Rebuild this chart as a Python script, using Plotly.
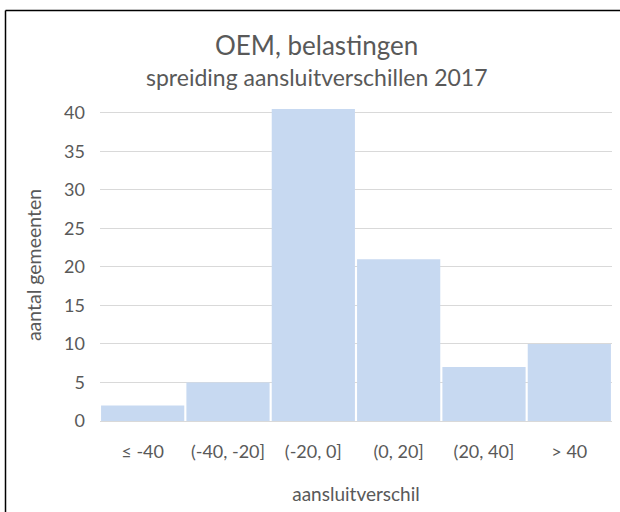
import plotly.graph_objects as go

# Histogram bins and counts
bins = ["≤ -40", "(-40, -20]", "(-20, 0]", "(0, 20]", "(20, 40]", "> 40"]
counts = [2, 5, 41, 21, 7, 10]
y_ticks = [0, 5, 10, 15, 20, 25, 30, 35, 40]

grey = "#595959"
font_family = "Lato, 'Open Sans', sans-serif"

fig = go.Figure(
    go.Bar(
        x=bins,
        y=counts,
        marker=dict(color="#c7d9f1", line=dict(width=0)),
        hoverinfo="x+y",
    )
)

fig.update_layout(
    width=620,
    height=512,
    margin=dict(l=100, r=8, t=109, b=91),
    paper_bgcolor="white",
    plot_bgcolor="white",
    bargap=0.025,
    showlegend=False,
    font=dict(family=font_family, color=grey, size=18),
    annotations=[
        dict(
            text="OEM, belastingen",
            xref="paper", yref="paper",
            x=(316 - 100) / 512, y=(421 - 45) / 312,
            showarrow=False, xanchor="center", yanchor="middle",
            font=dict(size=26, color=grey, family=font_family),
        ),
        dict(
            text="spreiding aansluitverschillen 2017",
            xref="paper", yref="paper",
            x=(317 - 100) / 512, y=(421 - 77) / 312,
            showarrow=False, xanchor="center", yanchor="middle",
            font=dict(size=23, color=grey, family=font_family),
        ),
    ],
    shapes=[
        # outer chart frame (top and left edges)
        dict(type="line", xref="paper", yref="paper",
             x0=(5.5 - 100) / 512, x1=(640 - 100) / 512,
             y0=(421 - 10.5) / 312, y1=(421 - 10.5) / 312,
             line=dict(color="black", width=1.5)),
        dict(type="line", xref="paper", yref="paper",
             x0=(5.5 - 100) / 512, x1=(5.5 - 100) / 512,
             y0=(421 - 530) / 312, y1=(421 - 10.5) / 312,
             line=dict(color="black", width=1.5)),
    ],
)

fig.update_xaxes(
    type="category",
    showgrid=False,
    showline=False,
    ticks="",
    ticklabelstandoff=18,
    tickfont=dict(size=18, color=grey),
    title=dict(text="aansluitverschil", font=dict(size=19, color=grey), standoff=26),
)

fig.update_yaxes(
    range=[0, 40.5],
    tickvals=y_ticks,
    showgrid=True,
    gridcolor="#d9d9d9",
    gridwidth=1,
    zeroline=True,
    zerolinecolor="#d9d9d9",
    zerolinewidth=1,
    showline=False,
    ticks="",
    ticklabelstandoff=14,
    tickfont=dict(size=18, color=grey),
    title=dict(text="aantal gemeenten", font=dict(size=19.5, color=grey), standoff=17),
)

fig.write_html("out.html")
